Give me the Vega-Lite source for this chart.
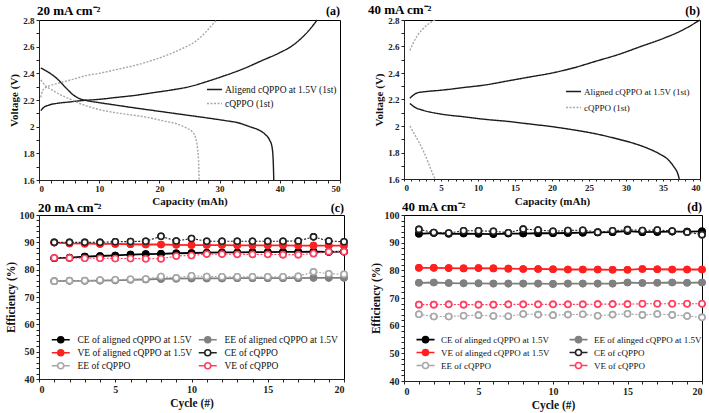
{
  "$schema": "https://vega.github.io/schema/vega-lite/v6.json",
  "padding": {"left": 4, "top": 3, "right": 1, "bottom": 2},
  "bounds": "flush",
  "columns": 2,
  "spacing": {"row": 35, "column": 60},
  "config": {
    "font": "Liberation Serif",
    "view": {"stroke": "black", "strokeWidth": 1},
    "axis": {"labelFont": "Liberation Serif", "labelFontWeight": "bold", "labelColor": "#222", "labelFontSize": 9, "titleFont": "Liberation Serif", "titleFontWeight": "bold", "titleFontSize": 11, "titleColor": "#111", "domainColor": "#222", "tickColor": "#222", "tickSize": 3, "grid": false, "labelPadding": 2, "titlePadding": 3, "labelOverlap": false, "tickCount": 100, "format": "~g"},
    "legend": {"labelFont": "Liberation Serif", "labelColor": "#111"},
    "text": {"font": "Liberation Serif"}
  },
  "datasets": {
    "capA": [
      {"series": "Aligend cQPPO at 1.5V (1st)", "branch": "charge", "k": 1, "cap": 0.3, "v": 2.12},
      {"series": "Aligend cQPPO at 1.5V (1st)", "branch": "charge", "k": 2, "cap": 0.8, "v": 2.145},
      {"series": "Aligend cQPPO at 1.5V (1st)", "branch": "charge", "k": 3, "cap": 1.5, "v": 2.16},
      {"series": "Aligend cQPPO at 1.5V (1st)", "branch": "charge", "k": 4, "cap": 3, "v": 2.175},
      {"series": "Aligend cQPPO at 1.5V (1st)", "branch": "charge", "k": 5, "cap": 5, "v": 2.185},
      {"series": "Aligend cQPPO at 1.5V (1st)", "branch": "charge", "k": 6, "cap": 7, "v": 2.195},
      {"series": "Aligend cQPPO at 1.5V (1st)", "branch": "charge", "k": 7, "cap": 10, "v": 2.205},
      {"series": "Aligend cQPPO at 1.5V (1st)", "branch": "charge", "k": 8, "cap": 13, "v": 2.22},
      {"series": "Aligend cQPPO at 1.5V (1st)", "branch": "charge", "k": 9, "cap": 16, "v": 2.235},
      {"series": "Aligend cQPPO at 1.5V (1st)", "branch": "charge", "k": 10, "cap": 19, "v": 2.255},
      {"series": "Aligend cQPPO at 1.5V (1st)", "branch": "charge", "k": 11, "cap": 22, "v": 2.275},
      {"series": "Aligend cQPPO at 1.5V (1st)", "branch": "charge", "k": 12, "cap": 25, "v": 2.3},
      {"series": "Aligend cQPPO at 1.5V (1st)", "branch": "charge", "k": 13, "cap": 28, "v": 2.34},
      {"series": "Aligend cQPPO at 1.5V (1st)", "branch": "charge", "k": 14, "cap": 31, "v": 2.385},
      {"series": "Aligend cQPPO at 1.5V (1st)", "branch": "charge", "k": 15, "cap": 34, "v": 2.435},
      {"series": "Aligend cQPPO at 1.5V (1st)", "branch": "charge", "k": 16, "cap": 37, "v": 2.495},
      {"series": "Aligend cQPPO at 1.5V (1st)", "branch": "charge", "k": 17, "cap": 40, "v": 2.555},
      {"series": "Aligend cQPPO at 1.5V (1st)", "branch": "charge", "k": 18, "cap": 42, "v": 2.605},
      {"series": "Aligend cQPPO at 1.5V (1st)", "branch": "charge", "k": 19, "cap": 43.5, "v": 2.66},
      {"series": "Aligend cQPPO at 1.5V (1st)", "branch": "charge", "k": 20, "cap": 44.8, "v": 2.72},
      {"series": "Aligend cQPPO at 1.5V (1st)", "branch": "charge", "k": 21, "cap": 46.2, "v": 2.8},
      {"series": "Aligend cQPPO at 1.5V (1st)", "branch": "discharge", "k": 1, "cap": 0.3, "v": 2.44},
      {"series": "Aligend cQPPO at 1.5V (1st)", "branch": "discharge", "k": 2, "cap": 1.5, "v": 2.41},
      {"series": "Aligend cQPPO at 1.5V (1st)", "branch": "discharge", "k": 3, "cap": 3, "v": 2.36},
      {"series": "Aligend cQPPO at 1.5V (1st)", "branch": "discharge", "k": 4, "cap": 4.5, "v": 2.29},
      {"series": "Aligend cQPPO at 1.5V (1st)", "branch": "discharge", "k": 5, "cap": 5.5, "v": 2.245},
      {"series": "Aligend cQPPO at 1.5V (1st)", "branch": "discharge", "k": 6, "cap": 6.5, "v": 2.215},
      {"series": "Aligend cQPPO at 1.5V (1st)", "branch": "discharge", "k": 7, "cap": 8, "v": 2.195},
      {"series": "Aligend cQPPO at 1.5V (1st)", "branch": "discharge", "k": 8, "cap": 10, "v": 2.18},
      {"series": "Aligend cQPPO at 1.5V (1st)", "branch": "discharge", "k": 9, "cap": 13, "v": 2.16},
      {"series": "Aligend cQPPO at 1.5V (1st)", "branch": "discharge", "k": 10, "cap": 16, "v": 2.14},
      {"series": "Aligend cQPPO at 1.5V (1st)", "branch": "discharge", "k": 11, "cap": 20, "v": 2.115},
      {"series": "Aligend cQPPO at 1.5V (1st)", "branch": "discharge", "k": 12, "cap": 24, "v": 2.09},
      {"series": "Aligend cQPPO at 1.5V (1st)", "branch": "discharge", "k": 13, "cap": 28, "v": 2.065},
      {"series": "Aligend cQPPO at 1.5V (1st)", "branch": "discharge", "k": 14, "cap": 31, "v": 2.045},
      {"series": "Aligend cQPPO at 1.5V (1st)", "branch": "discharge", "k": 15, "cap": 33, "v": 2.03},
      {"series": "Aligend cQPPO at 1.5V (1st)", "branch": "discharge", "k": 16, "cap": 35, "v": 2.0},
      {"series": "Aligend cQPPO at 1.5V (1st)", "branch": "discharge", "k": 17, "cap": 36.5, "v": 1.975},
      {"series": "Aligend cQPPO at 1.5V (1st)", "branch": "discharge", "k": 18, "cap": 37.5, "v": 1.945},
      {"series": "Aligend cQPPO at 1.5V (1st)", "branch": "discharge", "k": 19, "cap": 38.3, "v": 1.9},
      {"series": "Aligend cQPPO at 1.5V (1st)", "branch": "discharge", "k": 20, "cap": 38.7, "v": 1.85},
      {"series": "Aligend cQPPO at 1.5V (1st)", "branch": "discharge", "k": 21, "cap": 38.9, "v": 1.75},
      {"series": "Aligend cQPPO at 1.5V (1st)", "branch": "discharge", "k": 22, "cap": 39, "v": 1.6},
      {"series": "cQPPO (1st)", "branch": "charge", "k": 1, "cap": 0.3, "v": 2.22},
      {"series": "cQPPO (1st)", "branch": "charge", "k": 2, "cap": 0.6, "v": 2.27},
      {"series": "cQPPO (1st)", "branch": "charge", "k": 3, "cap": 1, "v": 2.29},
      {"series": "cQPPO (1st)", "branch": "charge", "k": 4, "cap": 2, "v": 2.31},
      {"series": "cQPPO (1st)", "branch": "charge", "k": 5, "cap": 4, "v": 2.335},
      {"series": "cQPPO (1st)", "branch": "charge", "k": 6, "cap": 6, "v": 2.36},
      {"series": "cQPPO (1st)", "branch": "charge", "k": 7, "cap": 8, "v": 2.385},
      {"series": "cQPPO (1st)", "branch": "charge", "k": 8, "cap": 10, "v": 2.4},
      {"series": "cQPPO (1st)", "branch": "charge", "k": 9, "cap": 13, "v": 2.43},
      {"series": "cQPPO (1st)", "branch": "charge", "k": 10, "cap": 16, "v": 2.46},
      {"series": "cQPPO (1st)", "branch": "charge", "k": 11, "cap": 19, "v": 2.5},
      {"series": "cQPPO (1st)", "branch": "charge", "k": 12, "cap": 22, "v": 2.55},
      {"series": "cQPPO (1st)", "branch": "charge", "k": 13, "cap": 24, "v": 2.59},
      {"series": "cQPPO (1st)", "branch": "charge", "k": 14, "cap": 26, "v": 2.64},
      {"series": "cQPPO (1st)", "branch": "charge", "k": 15, "cap": 27.5, "v": 2.7},
      {"series": "cQPPO (1st)", "branch": "charge", "k": 16, "cap": 28.5, "v": 2.75},
      {"series": "cQPPO (1st)", "branch": "charge", "k": 17, "cap": 29.5, "v": 2.8},
      {"series": "cQPPO (1st)", "branch": "discharge", "k": 1, "cap": 0.3, "v": 2.35},
      {"series": "cQPPO (1st)", "branch": "discharge", "k": 2, "cap": 1, "v": 2.31},
      {"series": "cQPPO (1st)", "branch": "discharge", "k": 3, "cap": 2, "v": 2.28},
      {"series": "cQPPO (1st)", "branch": "discharge", "k": 4, "cap": 3.5, "v": 2.24},
      {"series": "cQPPO (1st)", "branch": "discharge", "k": 5, "cap": 5, "v": 2.21},
      {"series": "cQPPO (1st)", "branch": "discharge", "k": 6, "cap": 7, "v": 2.17},
      {"series": "cQPPO (1st)", "branch": "discharge", "k": 7, "cap": 9, "v": 2.14},
      {"series": "cQPPO (1st)", "branch": "discharge", "k": 8, "cap": 12, "v": 2.11},
      {"series": "cQPPO (1st)", "branch": "discharge", "k": 9, "cap": 15, "v": 2.09},
      {"series": "cQPPO (1st)", "branch": "discharge", "k": 10, "cap": 18, "v": 2.07},
      {"series": "cQPPO (1st)", "branch": "discharge", "k": 11, "cap": 21, "v": 2.04},
      {"series": "cQPPO (1st)", "branch": "discharge", "k": 12, "cap": 23, "v": 2.02},
      {"series": "cQPPO (1st)", "branch": "discharge", "k": 13, "cap": 24.5, "v": 1.99},
      {"series": "cQPPO (1st)", "branch": "discharge", "k": 14, "cap": 25.5, "v": 1.96},
      {"series": "cQPPO (1st)", "branch": "discharge", "k": 15, "cap": 26, "v": 1.92},
      {"series": "cQPPO (1st)", "branch": "discharge", "k": 16, "cap": 26.3, "v": 1.85},
      {"series": "cQPPO (1st)", "branch": "discharge", "k": 17, "cap": 26.5, "v": 1.75},
      {"series": "cQPPO (1st)", "branch": "discharge", "k": 18, "cap": 26.6, "v": 1.6}
    ],
    "capB": [
      {"series": "Aligned cQPPO at 1.5V (1st)", "branch": "charge", "k": 1, "cap": 0.8, "v": 2.21},
      {"series": "Aligned cQPPO at 1.5V (1st)", "branch": "charge", "k": 2, "cap": 1.2, "v": 2.23},
      {"series": "Aligned cQPPO at 1.5V (1st)", "branch": "charge", "k": 3, "cap": 1.8, "v": 2.25},
      {"series": "Aligned cQPPO at 1.5V (1st)", "branch": "charge", "k": 4, "cap": 3, "v": 2.26},
      {"series": "Aligned cQPPO at 1.5V (1st)", "branch": "charge", "k": 5, "cap": 5, "v": 2.27},
      {"series": "Aligned cQPPO at 1.5V (1st)", "branch": "charge", "k": 6, "cap": 8, "v": 2.29},
      {"series": "Aligned cQPPO at 1.5V (1st)", "branch": "charge", "k": 7, "cap": 11, "v": 2.31},
      {"series": "Aligned cQPPO at 1.5V (1st)", "branch": "charge", "k": 8, "cap": 14, "v": 2.34},
      {"series": "Aligned cQPPO at 1.5V (1st)", "branch": "charge", "k": 9, "cap": 17, "v": 2.37},
      {"series": "Aligned cQPPO at 1.5V (1st)", "branch": "charge", "k": 10, "cap": 20, "v": 2.4},
      {"series": "Aligned cQPPO at 1.5V (1st)", "branch": "charge", "k": 11, "cap": 23, "v": 2.44},
      {"series": "Aligned cQPPO at 1.5V (1st)", "branch": "charge", "k": 12, "cap": 26, "v": 2.49},
      {"series": "Aligned cQPPO at 1.5V (1st)", "branch": "charge", "k": 13, "cap": 29, "v": 2.54},
      {"series": "Aligned cQPPO at 1.5V (1st)", "branch": "charge", "k": 14, "cap": 32, "v": 2.6},
      {"series": "Aligned cQPPO at 1.5V (1st)", "branch": "charge", "k": 15, "cap": 35, "v": 2.66},
      {"series": "Aligned cQPPO at 1.5V (1st)", "branch": "charge", "k": 16, "cap": 37.5, "v": 2.72},
      {"series": "Aligned cQPPO at 1.5V (1st)", "branch": "charge", "k": 17, "cap": 40, "v": 2.8},
      {"series": "Aligned cQPPO at 1.5V (1st)", "branch": "discharge", "k": 1, "cap": 0.8, "v": 2.17},
      {"series": "Aligned cQPPO at 1.5V (1st)", "branch": "discharge", "k": 2, "cap": 1.5, "v": 2.14},
      {"series": "Aligned cQPPO at 1.5V (1st)", "branch": "discharge", "k": 3, "cap": 2.5, "v": 2.12},
      {"series": "Aligned cQPPO at 1.5V (1st)", "branch": "discharge", "k": 4, "cap": 5, "v": 2.09},
      {"series": "Aligned cQPPO at 1.5V (1st)", "branch": "discharge", "k": 5, "cap": 8, "v": 2.07},
      {"series": "Aligned cQPPO at 1.5V (1st)", "branch": "discharge", "k": 6, "cap": 11, "v": 2.05},
      {"series": "Aligned cQPPO at 1.5V (1st)", "branch": "discharge", "k": 7, "cap": 14, "v": 2.035},
      {"series": "Aligned cQPPO at 1.5V (1st)", "branch": "discharge", "k": 8, "cap": 17, "v": 2.015},
      {"series": "Aligned cQPPO at 1.5V (1st)", "branch": "discharge", "k": 9, "cap": 20, "v": 1.995},
      {"series": "Aligned cQPPO at 1.5V (1st)", "branch": "discharge", "k": 10, "cap": 23, "v": 1.97},
      {"series": "Aligned cQPPO at 1.5V (1st)", "branch": "discharge", "k": 11, "cap": 26, "v": 1.94},
      {"series": "Aligned cQPPO at 1.5V (1st)", "branch": "discharge", "k": 12, "cap": 29, "v": 1.9},
      {"series": "Aligned cQPPO at 1.5V (1st)", "branch": "discharge", "k": 13, "cap": 31, "v": 1.87},
      {"series": "Aligned cQPPO at 1.5V (1st)", "branch": "discharge", "k": 14, "cap": 33, "v": 1.83},
      {"series": "Aligned cQPPO at 1.5V (1st)", "branch": "discharge", "k": 15, "cap": 34.5, "v": 1.79},
      {"series": "Aligned cQPPO at 1.5V (1st)", "branch": "discharge", "k": 16, "cap": 35.8, "v": 1.74},
      {"series": "Aligned cQPPO at 1.5V (1st)", "branch": "discharge", "k": 17, "cap": 36.5, "v": 1.69},
      {"series": "Aligned cQPPO at 1.5V (1st)", "branch": "discharge", "k": 18, "cap": 37, "v": 1.64},
      {"series": "Aligned cQPPO at 1.5V (1st)", "branch": "discharge", "k": 19, "cap": 37.2, "v": 1.6},
      {"series": "cQPPO (1st)", "branch": "charge", "k": 1, "cap": 0.8, "v": 2.57},
      {"series": "cQPPO (1st)", "branch": "charge", "k": 2, "cap": 1.2, "v": 2.62},
      {"series": "cQPPO (1st)", "branch": "charge", "k": 3, "cap": 1.8, "v": 2.68},
      {"series": "cQPPO (1st)", "branch": "charge", "k": 4, "cap": 2.5, "v": 2.73},
      {"series": "cQPPO (1st)", "branch": "charge", "k": 5, "cap": 3.3, "v": 2.77},
      {"series": "cQPPO (1st)", "branch": "charge", "k": 6, "cap": 4.2, "v": 2.8},
      {"series": "cQPPO (1st)", "branch": "discharge", "k": 1, "cap": 0.8, "v": 2.0},
      {"series": "cQPPO (1st)", "branch": "discharge", "k": 2, "cap": 1.3, "v": 1.95},
      {"series": "cQPPO (1st)", "branch": "discharge", "k": 3, "cap": 2.0, "v": 1.88},
      {"series": "cQPPO (1st)", "branch": "discharge", "k": 4, "cap": 2.7, "v": 1.8},
      {"series": "cQPPO (1st)", "branch": "discharge", "k": 5, "cap": 3.3, "v": 1.72},
      {"series": "cQPPO (1st)", "branch": "discharge", "k": 6, "cap": 3.8, "v": 1.65},
      {"series": "cQPPO (1st)", "branch": "discharge", "k": 7, "cap": 4.2, "v": 1.6}
    ],
    "effC": [
      {"s": "CE of aligned cQPPO at 1.5V", "c": 1, "e": 84.2}, {"s": "CE of aligned cQPPO at 1.5V", "c": 2, "e": 84.4}, {"s": "CE of aligned cQPPO at 1.5V", "c": 3, "e": 84.8}, {"s": "CE of aligned cQPPO at 1.5V", "c": 4, "e": 85.0}, {"s": "CE of aligned cQPPO at 1.5V", "c": 5, "e": 85.2}, {"s": "CE of aligned cQPPO at 1.5V", "c": 6, "e": 85.5}, {"s": "CE of aligned cQPPO at 1.5V", "c": 7, "e": 85.7}, {"s": "CE of aligned cQPPO at 1.5V", "c": 8, "e": 85.8}, {"s": "CE of aligned cQPPO at 1.5V", "c": 9, "e": 86.0}, {"s": "CE of aligned cQPPO at 1.5V", "c": 10, "e": 86.1},
      {"s": "CE of aligned cQPPO at 1.5V", "c": 11, "e": 86.2}, {"s": "CE of aligned cQPPO at 1.5V", "c": 12, "e": 86.3}, {"s": "CE of aligned cQPPO at 1.5V", "c": 13, "e": 86.3}, {"s": "CE of aligned cQPPO at 1.5V", "c": 14, "e": 86.4}, {"s": "CE of aligned cQPPO at 1.5V", "c": 15, "e": 86.4}, {"s": "CE of aligned cQPPO at 1.5V", "c": 16, "e": 86.5}, {"s": "CE of aligned cQPPO at 1.5V", "c": 17, "e": 86.5}, {"s": "CE of aligned cQPPO at 1.5V", "c": 18, "e": 86.6}, {"s": "CE of aligned cQPPO at 1.5V", "c": 19, "e": 86.5}, {"s": "CE of aligned cQPPO at 1.5V", "c": 20, "e": 86.6},
      {"s": "EE of aligned cQPPO at 1.5V", "c": 1, "e": 75.8}, {"s": "EE of aligned cQPPO at 1.5V", "c": 2, "e": 75.9}, {"s": "EE of aligned cQPPO at 1.5V", "c": 3, "e": 75.9}, {"s": "EE of aligned cQPPO at 1.5V", "c": 4, "e": 76.0}, {"s": "EE of aligned cQPPO at 1.5V", "c": 5, "e": 76.1}, {"s": "EE of aligned cQPPO at 1.5V", "c": 6, "e": 76.3}, {"s": "EE of aligned cQPPO at 1.5V", "c": 7, "e": 76.4}, {"s": "EE of aligned cQPPO at 1.5V", "c": 8, "e": 76.6}, {"s": "EE of aligned cQPPO at 1.5V", "c": 9, "e": 76.7}, {"s": "EE of aligned cQPPO at 1.5V", "c": 10, "e": 76.8},
      {"s": "EE of aligned cQPPO at 1.5V", "c": 11, "e": 76.8}, {"s": "EE of aligned cQPPO at 1.5V", "c": 12, "e": 76.8}, {"s": "EE of aligned cQPPO at 1.5V", "c": 13, "e": 76.9}, {"s": "EE of aligned cQPPO at 1.5V", "c": 14, "e": 76.9}, {"s": "EE of aligned cQPPO at 1.5V", "c": 15, "e": 76.9}, {"s": "EE of aligned cQPPO at 1.5V", "c": 16, "e": 76.9}, {"s": "EE of aligned cQPPO at 1.5V", "c": 17, "e": 76.9}, {"s": "EE of aligned cQPPO at 1.5V", "c": 18, "e": 77.0}, {"s": "EE of aligned cQPPO at 1.5V", "c": 19, "e": 77.0}, {"s": "EE of aligned cQPPO at 1.5V", "c": 20, "e": 77.0},
      {"s": "VE of aligned cQPPO at 1.5V", "c": 1, "e": 89.9}, {"s": "VE of aligned cQPPO at 1.5V", "c": 2, "e": 89.6}, {"s": "VE of aligned cQPPO at 1.5V", "c": 3, "e": 89.5}, {"s": "VE of aligned cQPPO at 1.5V", "c": 4, "e": 89.4}, {"s": "VE of aligned cQPPO at 1.5V", "c": 5, "e": 89.4}, {"s": "VE of aligned cQPPO at 1.5V", "c": 6, "e": 89.3}, {"s": "VE of aligned cQPPO at 1.5V", "c": 7, "e": 89.2}, {"s": "VE of aligned cQPPO at 1.5V", "c": 8, "e": 89.2}, {"s": "VE of aligned cQPPO at 1.5V", "c": 9, "e": 89.1}, {"s": "VE of aligned cQPPO at 1.5V", "c": 10, "e": 89.0},
      {"s": "VE of aligned cQPPO at 1.5V", "c": 11, "e": 89.0}, {"s": "VE of aligned cQPPO at 1.5V", "c": 12, "e": 89.0}, {"s": "VE of aligned cQPPO at 1.5V", "c": 13, "e": 88.9}, {"s": "VE of aligned cQPPO at 1.5V", "c": 14, "e": 88.9}, {"s": "VE of aligned cQPPO at 1.5V", "c": 15, "e": 88.9}, {"s": "VE of aligned cQPPO at 1.5V", "c": 16, "e": 88.9}, {"s": "VE of aligned cQPPO at 1.5V", "c": 17, "e": 88.8}, {"s": "VE of aligned cQPPO at 1.5V", "c": 18, "e": 88.8}, {"s": "VE of aligned cQPPO at 1.5V", "c": 19, "e": 88.8}, {"s": "VE of aligned cQPPO at 1.5V", "c": 20, "e": 88.8},
      {"s": "CE of cQPPO", "c": 1, "e": 90.0}, {"s": "CE of cQPPO", "c": 2, "e": 90.0}, {"s": "CE of cQPPO", "c": 3, "e": 90.0}, {"s": "CE of cQPPO", "c": 4, "e": 90.0}, {"s": "CE of cQPPO", "c": 5, "e": 90.2}, {"s": "CE of cQPPO", "c": 6, "e": 90.3}, {"s": "CE of cQPPO", "c": 7, "e": 90.4}, {"s": "CE of cQPPO", "c": 8, "e": 92.2}, {"s": "CE of cQPPO", "c": 9, "e": 90.5}, {"s": "CE of cQPPO", "c": 10, "e": 91.4},
      {"s": "CE of cQPPO", "c": 11, "e": 90.4}, {"s": "CE of cQPPO", "c": 12, "e": 90.4}, {"s": "CE of cQPPO", "c": 13, "e": 90.4}, {"s": "CE of cQPPO", "c": 14, "e": 90.4}, {"s": "CE of cQPPO", "c": 15, "e": 90.4}, {"s": "CE of cQPPO", "c": 16, "e": 90.4}, {"s": "CE of cQPPO", "c": 17, "e": 90.5}, {"s": "CE of cQPPO", "c": 18, "e": 92.0}, {"s": "CE of cQPPO", "c": 19, "e": 90.5}, {"s": "CE of cQPPO", "c": 20, "e": 90.2},
      {"s": "EE of cQPPO", "c": 1, "e": 75.8}, {"s": "EE of cQPPO", "c": 2, "e": 76.0}, {"s": "EE of cQPPO", "c": 3, "e": 76.0}, {"s": "EE of cQPPO", "c": 4, "e": 76.2}, {"s": "EE of cQPPO", "c": 5, "e": 76.3}, {"s": "EE of cQPPO", "c": 6, "e": 76.5}, {"s": "EE of cQPPO", "c": 7, "e": 76.6}, {"s": "EE of cQPPO", "c": 8, "e": 77.5}, {"s": "EE of cQPPO", "c": 9, "e": 77.0}, {"s": "EE of cQPPO", "c": 10, "e": 77.8},
      {"s": "EE of cQPPO", "c": 11, "e": 77.5}, {"s": "EE of cQPPO", "c": 12, "e": 77.4}, {"s": "EE of cQPPO", "c": 13, "e": 77.4}, {"s": "EE of cQPPO", "c": 14, "e": 77.4}, {"s": "EE of cQPPO", "c": 15, "e": 77.4}, {"s": "EE of cQPPO", "c": 16, "e": 77.4}, {"s": "EE of cQPPO", "c": 17, "e": 77.6}, {"s": "EE of cQPPO", "c": 18, "e": 79.2}, {"s": "EE of cQPPO", "c": 19, "e": 78.5}, {"s": "EE of cQPPO", "c": 20, "e": 78.3},
      {"s": "VE of cQPPO", "c": 1, "e": 84.3}, {"s": "VE of cQPPO", "c": 2, "e": 84.3}, {"s": "VE of cQPPO", "c": 3, "e": 84.2}, {"s": "VE of cQPPO", "c": 4, "e": 84.2}, {"s": "VE of cQPPO", "c": 5, "e": 84.1}, {"s": "VE of cQPPO", "c": 6, "e": 84.1}, {"s": "VE of cQPPO", "c": 7, "e": 84.0}, {"s": "VE of cQPPO", "c": 8, "e": 84.0}, {"s": "VE of cQPPO", "c": 9, "e": 85.0}, {"s": "VE of cQPPO", "c": 10, "e": 85.2},
      {"s": "VE of cQPPO", "c": 11, "e": 85.7}, {"s": "VE of cQPPO", "c": 12, "e": 85.7}, {"s": "VE of cQPPO", "c": 13, "e": 85.6}, {"s": "VE of cQPPO", "c": 14, "e": 85.6}, {"s": "VE of cQPPO", "c": 15, "e": 85.6}, {"s": "VE of cQPPO", "c": 16, "e": 85.5}, {"s": "VE of cQPPO", "c": 17, "e": 85.5}, {"s": "VE of cQPPO", "c": 18, "e": 85.9}, {"s": "VE of cQPPO", "c": 19, "e": 86.6}, {"s": "VE of cQPPO", "c": 20, "e": 86.6}
    ],
    "effD": [
      {"s": "CE of alinged cQPPO at 1.5V", "c": 1, "e": 93.2}, {"s": "CE of alinged cQPPO at 1.5V", "c": 2, "e": 93.5}, {"s": "CE of alinged cQPPO at 1.5V", "c": 3, "e": 93.2}, {"s": "CE of alinged cQPPO at 1.5V", "c": 4, "e": 93.3}, {"s": "CE of alinged cQPPO at 1.5V", "c": 5, "e": 93.2}, {"s": "CE of alinged cQPPO at 1.5V", "c": 6, "e": 93.1}, {"s": "CE of alinged cQPPO at 1.5V", "c": 7, "e": 93.3}, {"s": "CE of alinged cQPPO at 1.5V", "c": 8, "e": 93.3}, {"s": "CE of alinged cQPPO at 1.5V", "c": 9, "e": 93.4}, {"s": "CE of alinged cQPPO at 1.5V", "c": 10, "e": 93.4},
      {"s": "CE of alinged cQPPO at 1.5V", "c": 11, "e": 93.5}, {"s": "CE of alinged cQPPO at 1.5V", "c": 12, "e": 93.6}, {"s": "CE of alinged cQPPO at 1.5V", "c": 13, "e": 93.7}, {"s": "CE of alinged cQPPO at 1.5V", "c": 14, "e": 93.8}, {"s": "CE of alinged cQPPO at 1.5V", "c": 15, "e": 94.2}, {"s": "CE of alinged cQPPO at 1.5V", "c": 16, "e": 93.8}, {"s": "CE of alinged cQPPO at 1.5V", "c": 17, "e": 93.9}, {"s": "CE of alinged cQPPO at 1.5V", "c": 18, "e": 94.0}, {"s": "CE of alinged cQPPO at 1.5V", "c": 19, "e": 94.0}, {"s": "CE of alinged cQPPO at 1.5V", "c": 20, "e": 94.1},
      {"s": "EE of alinged cQPPO at 1.5V", "c": 1, "e": 75.5}, {"s": "EE of alinged cQPPO at 1.5V", "c": 2, "e": 75.6}, {"s": "EE of alinged cQPPO at 1.5V", "c": 3, "e": 75.4}, {"s": "EE of alinged cQPPO at 1.5V", "c": 4, "e": 75.3}, {"s": "EE of alinged cQPPO at 1.5V", "c": 5, "e": 75.3}, {"s": "EE of alinged cQPPO at 1.5V", "c": 6, "e": 75.2}, {"s": "EE of alinged cQPPO at 1.5V", "c": 7, "e": 75.2}, {"s": "EE of alinged cQPPO at 1.5V", "c": 8, "e": 75.2}, {"s": "EE of alinged cQPPO at 1.5V", "c": 9, "e": 75.2}, {"s": "EE of alinged cQPPO at 1.5V", "c": 10, "e": 75.1},
      {"s": "EE of alinged cQPPO at 1.5V", "c": 11, "e": 75.2}, {"s": "EE of alinged cQPPO at 1.5V", "c": 12, "e": 75.2}, {"s": "EE of alinged cQPPO at 1.5V", "c": 13, "e": 75.2}, {"s": "EE of alinged cQPPO at 1.5V", "c": 14, "e": 75.2}, {"s": "EE of alinged cQPPO at 1.5V", "c": 15, "e": 75.6}, {"s": "EE of alinged cQPPO at 1.5V", "c": 16, "e": 75.4}, {"s": "EE of alinged cQPPO at 1.5V", "c": 17, "e": 75.5}, {"s": "EE of alinged cQPPO at 1.5V", "c": 18, "e": 75.6}, {"s": "EE of alinged cQPPO at 1.5V", "c": 19, "e": 75.5}, {"s": "EE of alinged cQPPO at 1.5V", "c": 20, "e": 75.6},
      {"s": "VE of alinged cQPPO at 1.5V", "c": 1, "e": 80.9}, {"s": "VE of alinged cQPPO at 1.5V", "c": 2, "e": 80.9}, {"s": "VE of alinged cQPPO at 1.5V", "c": 3, "e": 80.8}, {"s": "VE of alinged cQPPO at 1.5V", "c": 4, "e": 80.7}, {"s": "VE of alinged cQPPO at 1.5V", "c": 5, "e": 80.8}, {"s": "VE of alinged cQPPO at 1.5V", "c": 6, "e": 80.7}, {"s": "VE of alinged cQPPO at 1.5V", "c": 7, "e": 80.6}, {"s": "VE of alinged cQPPO at 1.5V", "c": 8, "e": 80.5}, {"s": "VE of alinged cQPPO at 1.5V", "c": 9, "e": 80.5}, {"s": "VE of alinged cQPPO at 1.5V", "c": 10, "e": 80.4},
      {"s": "VE of alinged cQPPO at 1.5V", "c": 11, "e": 80.3}, {"s": "VE of alinged cQPPO at 1.5V", "c": 12, "e": 80.3}, {"s": "VE of alinged cQPPO at 1.5V", "c": 13, "e": 80.3}, {"s": "VE of alinged cQPPO at 1.5V", "c": 14, "e": 80.2}, {"s": "VE of alinged cQPPO at 1.5V", "c": 15, "e": 80.2}, {"s": "VE of alinged cQPPO at 1.5V", "c": 16, "e": 80.5}, {"s": "VE of alinged cQPPO at 1.5V", "c": 17, "e": 80.4}, {"s": "VE of alinged cQPPO at 1.5V", "c": 18, "e": 80.3}, {"s": "VE of alinged cQPPO at 1.5V", "c": 19, "e": 80.3}, {"s": "VE of alinged cQPPO at 1.5V", "c": 20, "e": 80.3},
      {"s": "CE of cQPPO", "c": 1, "e": 94.8}, {"s": "CE of cQPPO", "c": 2, "e": 93.7}, {"s": "CE of cQPPO", "c": 3, "e": 93.5}, {"s": "CE of cQPPO", "c": 4, "e": 94.3}, {"s": "CE of cQPPO", "c": 5, "e": 94.3}, {"s": "CE of cQPPO", "c": 6, "e": 94.1}, {"s": "CE of cQPPO", "c": 7, "e": 93.6}, {"s": "CE of cQPPO", "c": 8, "e": 94.9}, {"s": "CE of cQPPO", "c": 9, "e": 94.6}, {"s": "CE of cQPPO", "c": 10, "e": 94.1},
      {"s": "CE of cQPPO", "c": 11, "e": 94.4}, {"s": "CE of cQPPO", "c": 12, "e": 94.5}, {"s": "CE of cQPPO", "c": 13, "e": 93.8}, {"s": "CE of cQPPO", "c": 14, "e": 94.3}, {"s": "CE of cQPPO", "c": 15, "e": 94.7}, {"s": "CE of cQPPO", "c": 16, "e": 94.4}, {"s": "CE of cQPPO", "c": 17, "e": 94.6}, {"s": "CE of cQPPO", "c": 18, "e": 94.2}, {"s": "CE of cQPPO", "c": 19, "e": 93.8}, {"s": "CE of cQPPO", "c": 20, "e": 92.9},
      {"s": "EE of cQPPO", "c": 1, "e": 64.1}, {"s": "EE of cQPPO", "c": 2, "e": 63.3}, {"s": "EE of cQPPO", "c": 3, "e": 63.3}, {"s": "EE of cQPPO", "c": 4, "e": 63.6}, {"s": "EE of cQPPO", "c": 5, "e": 63.8}, {"s": "EE of cQPPO", "c": 6, "e": 63.5}, {"s": "EE of cQPPO", "c": 7, "e": 63.4}, {"s": "EE of cQPPO", "c": 8, "e": 64.2}, {"s": "EE of cQPPO", "c": 9, "e": 64.0}, {"s": "EE of cQPPO", "c": 10, "e": 63.8},
      {"s": "EE of cQPPO", "c": 11, "e": 64.0}, {"s": "EE of cQPPO", "c": 12, "e": 64.1}, {"s": "EE of cQPPO", "c": 13, "e": 63.6}, {"s": "EE of cQPPO", "c": 14, "e": 64.0}, {"s": "EE of cQPPO", "c": 15, "e": 64.3}, {"s": "EE of cQPPO", "c": 16, "e": 63.9}, {"s": "EE of cQPPO", "c": 17, "e": 64.2}, {"s": "EE of cQPPO", "c": 18, "e": 63.9}, {"s": "EE of cQPPO", "c": 19, "e": 63.5}, {"s": "EE of cQPPO", "c": 20, "e": 63.0},
      {"s": "VE of cQPPO", "c": 1, "e": 67.6}, {"s": "VE of cQPPO", "c": 2, "e": 67.6}, {"s": "VE of cQPPO", "c": 3, "e": 67.7}, {"s": "VE of cQPPO", "c": 4, "e": 67.6}, {"s": "VE of cQPPO", "c": 5, "e": 67.6}, {"s": "VE of cQPPO", "c": 6, "e": 67.6}, {"s": "VE of cQPPO", "c": 7, "e": 67.7}, {"s": "VE of cQPPO", "c": 8, "e": 67.7}, {"s": "VE of cQPPO", "c": 9, "e": 67.7}, {"s": "VE of cQPPO", "c": 10, "e": 67.7},
      {"s": "VE of cQPPO", "c": 11, "e": 67.7}, {"s": "VE of cQPPO", "c": 12, "e": 67.7}, {"s": "VE of cQPPO", "c": 13, "e": 67.8}, {"s": "VE of cQPPO", "c": 14, "e": 67.8}, {"s": "VE of cQPPO", "c": 15, "e": 67.8}, {"s": "VE of cQPPO", "c": 16, "e": 67.9}, {"s": "VE of cQPPO", "c": 17, "e": 67.9}, {"s": "VE of cQPPO", "c": 18, "e": 67.9}, {"s": "VE of cQPPO", "c": 19, "e": 67.9}, {"s": "VE of cQPPO", "c": 20, "e": 67.9}
    ]
  },
  "resolve": {"scale": {"stroke": "independent", "fill": "independent", "strokeDash": "independent"}},
  "concat": [
    {
      "width": 301, "height": 160,
      "layer": [
        {
          "data": {"name": "capA"},
          "mark": {"type": "line", "strokeWidth": 1.4, "interpolate": "monotone"},
          "encoding": {
            "x": {"field": "cap", "type": "quantitative", "title": "Capacity (mAh)", "scale": {"domain": [0, 50], "nice": false},
                  "axis": {"values": [0,2,4,6,8,10,12,14,16,18,20,22,24,26,28,30,32,34,36,38,40,42,44,46,48,50], "labelExpr": "datum.value % 10 == 0 ? datum.label : ''", "format": "~g", "labelOverlap": false, "tickCount": 100, "labelPadding": 1, "titlePadding": 2}},
            "y": {"field": "v", "type": "quantitative", "title": "Voltage (V)", "scale": {"domain": [1.6, 2.8], "nice": false, "zero": false},
                  "axis": {"values": [1.6,1.7,1.8,1.9,2.0,2.1,2.2,2.3,2.4,2.5,2.6,2.7,2.8], "labelExpr": "round(datum.value*10) % 2 == 0 ? datum.label : ''", "format": "~g", "labelOverlap": false, "tickCount": 100}},
            "detail": {"field": "branch"},
            "order": {"field": "k", "type": "quantitative"},
            "stroke": {"field": "series", "type": "nominal", "scale": {"domain": ["Aligend cQPPO at 1.5V (1st)", "cQPPO (1st)"], "range": ["#1c1c1c", "#a8a8a8"]},
                       "legend": {"title": null, "orient": "none", "legendX": 167, "legendY": 61, "symbolType": "stroke", "symbolSize": 225, "symbolStrokeWidth": 1.4, "labelFontSize": 9.5, "rowPadding": 1, "labelOffset": 2}},
            "strokeDash": {"field": "series", "type": "nominal", "scale": {"domain": ["Aligend cQPPO at 1.5V (1st)", "cQPPO (1st)"], "range": [[1, 0], [2, 1.5]]}, "legend": null}
          }
        },
        {
          "data": {"values": [{"lab": "20 mA cm⁻²", "x": 0, "y": 2.8}]},
          "mark": {"type": "text", "align": "left", "baseline": "alphabetic", "dx": -2, "dy": -5, "fontSize": 13, "fontWeight": "bold", "color": "#000"},
          "encoding": {"x": {"field": "x", "type": "quantitative"}, "y": {"field": "y", "type": "quantitative"}, "text": {"field": "lab"}}
        },
        {
          "data": {"values": [{"lab": "(a)", "x": 50, "y": 2.8}]},
          "mark": {"type": "text", "align": "right", "baseline": "alphabetic", "dy": -5, "fontSize": 12, "fontWeight": "bold", "color": "#000"},
          "encoding": {"x": {"field": "x", "type": "quantitative"}, "y": {"field": "y", "type": "quantitative"}, "text": {"field": "lab"}}
        }
      ]
    },
    {
      "width": 296, "height": 159,
      "layer": [
        {
          "data": {"name": "capB"},
          "mark": {"type": "line", "strokeWidth": 1.4, "interpolate": "monotone"},
          "encoding": {
            "x": {"field": "cap", "type": "quantitative", "title": "Capacity (mAh)", "scale": {"domain": [0, 40], "nice": false},
                  "axis": {"values": [0,1,2,3,4,5,6,7,8,9,10,11,12,13,14,15,16,17,18,19,20,21,22,23,24,25,26,27,28,29,30,31,32,33,34,35,36,37,38,39,40], "labelExpr": "datum.value % 5 == 0 ? datum.label : ''", "format": "~g", "tickSize": 2, "labelOverlap": false, "tickCount": 100}},
            "y": {"field": "v", "type": "quantitative", "title": "Voltage (V)", "scale": {"domain": [1.6, 2.8], "nice": false, "zero": false},
                  "axis": {"values": [1.6,1.7,1.8,1.9,2.0,2.1,2.2,2.3,2.4,2.5,2.6,2.7,2.8], "labelExpr": "round(datum.value*10) % 2 == 0 ? datum.label : ''", "format": "~g", "labelOverlap": false, "tickCount": 100}},
            "detail": {"field": "branch"},
            "order": {"field": "k", "type": "quantitative"},
            "stroke": {"field": "series", "type": "nominal", "scale": {"domain": ["Aligned cQPPO at 1.5V (1st)", "cQPPO (1st)"], "range": ["#1c1c1c", "#a8a8a8"]},
                       "legend": {"title": null, "orient": "none", "legendX": 161, "legendY": 63, "symbolType": "stroke", "symbolSize": 225, "symbolStrokeWidth": 1.4, "labelFontSize": 9, "rowPadding": 2, "labelOffset": 2}},
            "strokeDash": {"field": "series", "type": "nominal", "scale": {"domain": ["Aligned cQPPO at 1.5V (1st)", "cQPPO (1st)"], "range": [[1, 0], [2, 1.5]]}, "legend": null}
          }
        },
        {
          "data": {"values": [{"lab": "40 mA cm⁻²", "x": 0, "y": 2.8}]},
          "mark": {"type": "text", "align": "left", "baseline": "alphabetic", "dx": -36, "dy": -6, "fontSize": 13, "fontWeight": "bold", "color": "#000"},
          "encoding": {"x": {"field": "x", "type": "quantitative"}, "y": {"field": "y", "type": "quantitative"}, "text": {"field": "lab"}}
        },
        {
          "data": {"values": [{"lab": "(b)", "x": 40, "y": 2.8}]},
          "mark": {"type": "text", "align": "right", "baseline": "alphabetic", "dy": -5, "fontSize": 12, "fontWeight": "bold", "color": "#000"},
          "encoding": {"x": {"field": "x", "type": "quantitative"}, "y": {"field": "y", "type": "quantitative"}, "text": {"field": "lab"}}
        }
      ]
    },
    {
      "width": 305, "height": 164,
      "layer": [
        {
          "data": {"name": "effC"},
          "mark": {"type": "point", "shape": "circle", "size": 36, "opacity": 1, "strokeWidth": 1.6},
          "encoding": {
            "x": {"field": "c", "type": "quantitative", "title": "Cycle (#)", "scale": {"domain": [0, 20], "nice": false},
                  "axis": {"values": [0,1,2,3,4,5,6,7,8,9,10,11,12,13,14,15,16,17,18,19,20], "labelExpr": "datum.value % 5 == 0 ? datum.label : ''", "format": "d", "labelFontSize": 10, "titleFontSize": 11.5, "labelOverlap": false, "tickCount": 100}},
            "y": {"field": "e", "type": "quantitative", "title": "Efficiency (%)", "scale": {"domain": [40, 100], "nice": false, "zero": false},
                  "axis": {"values": [40,42,44,46,48,50,52,54,56,58,60,62,64,66,68,70,72,74,76,78,80,82,84,86,88,90,92,94,96,98,100], "labelExpr": "datum.value % 10 == 0 ? datum.label : ''", "format": "d", "labelFontSize": 10, "titleFontSize": 11.5, "labelOverlap": false, "tickCount": 100}},
            "stroke": {"field": "s", "type": "nominal", "scale": {"domain": ["CE of aligned cQPPO at 1.5V", "VE of aligned cQPPO at 1.5V", "EE of cQPPO", "EE of aligned cQPPO at 1.5V", "CE of cQPPO", "VE of cQPPO"], "range": ["#000000", "#ff2020", "#a8a8a8", "#808080", "#222222", "#ff4060"]},
                       "legend": {"title": null, "orient": "none", "legendX": 11, "legendY": 120, "columns": 2, "columnPadding": 2, "rowPadding": 0, "symbolType": "M-3,0L-1,0M1,0L3,0M-1,0A1,1,0,1,0,1,0A1,1,0,1,0,-1,0Z", "symbolSize": 36, "symbolStrokeWidth": 1.6, "symbolOffset": 6, "labelOffset": 12, "labelFontSize": 9.5}},
            "fill": {"field": "s", "type": "nominal", "scale": {"domain": ["CE of aligned cQPPO at 1.5V", "VE of aligned cQPPO at 1.5V", "EE of cQPPO", "EE of aligned cQPPO at 1.5V", "CE of cQPPO", "VE of cQPPO"], "range": ["#000000", "#ff2020", "#ffffff", "#808080", "#ffffff", "#ffffff"]},
                       "legend": {"title": null, "orient": "none", "legendX": 11, "legendY": 120, "columns": 2, "columnPadding": 2, "rowPadding": 0, "symbolType": "M-3,0L-1,0M1,0L3,0M-1,0A1,1,0,1,0,1,0A1,1,0,1,0,-1,0Z", "symbolSize": 36, "symbolStrokeWidth": 1.6, "symbolOffset": 6, "labelOffset": 12, "labelFontSize": 9.5}}
          }
        },
        {
          "data": {"name": "effC"},
          "transform": [{"filter": {"field": "s", "oneOf": ["CE of aligned cQPPO at 1.5V", "EE of aligned cQPPO at 1.5V", "VE of aligned cQPPO at 1.5V"]}}],
          "mark": {"type": "line", "strokeWidth": 1.8},
          "encoding": {
            "x": {"field": "c", "type": "quantitative"},
            "y": {"field": "e", "type": "quantitative"},
            "stroke": {"field": "s", "type": "nominal", "scale": {"domain": ["CE of aligned cQPPO at 1.5V", "VE of aligned cQPPO at 1.5V", "EE of cQPPO", "EE of aligned cQPPO at 1.5V", "CE of cQPPO", "VE of cQPPO"], "range": ["#000000", "#ff2020", "#a8a8a8", "#808080", "#222222", "#ff4060"]}}
          }
        },
        {
          "data": {"name": "effC"},
          "transform": [{"filter": {"field": "s", "oneOf": ["CE of cQPPO", "EE of cQPPO", "VE of cQPPO"]}}],
          "mark": {"type": "line", "strokeWidth": 1.1, "strokeDash": [2, 1.5]},
          "encoding": {
            "x": {"field": "c", "type": "quantitative"},
            "y": {"field": "e", "type": "quantitative"},
            "stroke": {"field": "s", "type": "nominal", "scale": {"domain": ["CE of aligned cQPPO at 1.5V", "VE of aligned cQPPO at 1.5V", "EE of cQPPO", "EE of aligned cQPPO at 1.5V", "CE of cQPPO", "VE of cQPPO"], "range": ["#000000", "#ff2020", "#a8a8a8", "#808080", "#222222", "#ff4060"]}}
          }
        },
        {
          "data": {"name": "effC"},
          "mark": {"type": "point", "shape": "circle", "size": 36, "opacity": 1, "strokeWidth": 1.6},
          "encoding": {
            "x": {"field": "c", "type": "quantitative"},
            "y": {"field": "e", "type": "quantitative"},
            "stroke": {"field": "s", "type": "nominal", "scale": {"domain": ["CE of aligned cQPPO at 1.5V", "VE of aligned cQPPO at 1.5V", "EE of cQPPO", "EE of aligned cQPPO at 1.5V", "CE of cQPPO", "VE of cQPPO"], "range": ["#000000", "#ff2020", "#a8a8a8", "#808080", "#222222", "#ff4060"]}},
            "fill": {"field": "s", "type": "nominal", "scale": {"domain": ["CE of aligned cQPPO at 1.5V", "VE of aligned cQPPO at 1.5V", "EE of cQPPO", "EE of aligned cQPPO at 1.5V", "CE of cQPPO", "VE of cQPPO"], "range": ["#000000", "#ff2020", "#ffffff", "#808080", "#ffffff", "#ffffff"]}}
          }
        },
        {
          "data": {"values": [{"lab": "20 mA cm⁻²", "x": 0, "y": 100}]},
          "mark": {"type": "text", "align": "left", "baseline": "alphabetic", "dx": -1, "dy": -3, "fontSize": 13, "fontWeight": "bold", "color": "#000"},
          "encoding": {"x": {"field": "x", "type": "quantitative"}, "y": {"field": "y", "type": "quantitative"}, "text": {"field": "lab"}}
        },
        {
          "data": {"values": [{"lab": "(c)", "x": 20, "y": 100}]},
          "mark": {"type": "text", "align": "right", "baseline": "alphabetic", "dy": -3, "fontSize": 12, "fontWeight": "bold", "color": "#000"},
          "encoding": {"x": {"field": "x", "type": "quantitative"}, "y": {"field": "y", "type": "quantitative"}, "text": {"field": "lab"}}
        }
      ]
    },
    {
      "width": 298, "height": 166,
      "layer": [
        {
          "data": {"name": "effD"},
          "mark": {"type": "point", "shape": "circle", "size": 36, "opacity": 1, "strokeWidth": 1.6},
          "encoding": {
            "x": {"field": "c", "type": "quantitative", "title": "Cycle (#)", "scale": {"domain": [0, 20], "nice": false},
                  "axis": {"values": [0,1,2,3,4,5,6,7,8,9,10,11,12,13,14,15,16,17,18,19,20], "labelExpr": "datum.value % 5 == 0 ? datum.label : ''", "format": "d", "labelFontSize": 10, "titleFontSize": 11.5, "labelOverlap": false, "tickCount": 100}},
            "y": {"field": "e", "type": "quantitative", "title": "Efficiency (%)", "scale": {"domain": [40, 100], "nice": false, "zero": false},
                  "axis": {"values": [40,42,44,46,48,50,52,54,56,58,60,62,64,66,68,70,72,74,76,78,80,82,84,86,88,90,92,94,96,98,100], "labelExpr": "datum.value % 10 == 0 ? datum.label : ''", "format": "d", "labelFontSize": 10, "titleFontSize": 11.5, "labelOverlap": false, "tickCount": 100}},
            "stroke": {"field": "s", "type": "nominal", "scale": {"domain": ["CE of alinged cQPPO at 1.5V", "VE of alinged cQPPO at 1.5V", "EE of cQPPO", "EE of alinged cQPPO at 1.5V", "CE of cQPPO", "VE of cQPPO"], "range": ["#000000", "#ff2020", "#a8a8a8", "#808080", "#222222", "#ff4060"]},
                       "legend": {"title": null, "orient": "none", "legendX": 11, "legendY": 120, "columns": 2, "columnPadding": 16, "rowPadding": 0, "symbolType": "M-3,0L-1,0M1,0L3,0M-1,0A1,1,0,1,0,1,0A1,1,0,1,0,-1,0Z", "symbolSize": 36, "symbolStrokeWidth": 1.6, "symbolOffset": 6, "labelOffset": 11, "labelFontSize": 9}},
            "fill": {"field": "s", "type": "nominal", "scale": {"domain": ["CE of alinged cQPPO at 1.5V", "VE of alinged cQPPO at 1.5V", "EE of cQPPO", "EE of alinged cQPPO at 1.5V", "CE of cQPPO", "VE of cQPPO"], "range": ["#000000", "#ff2020", "#ffffff", "#808080", "#ffffff", "#ffffff"]},
                       "legend": {"title": null, "orient": "none", "legendX": 11, "legendY": 120, "columns": 2, "columnPadding": 16, "rowPadding": 0, "symbolType": "M-3,0L-1,0M1,0L3,0M-1,0A1,1,0,1,0,1,0A1,1,0,1,0,-1,0Z", "symbolSize": 36, "symbolStrokeWidth": 1.6, "symbolOffset": 6, "labelOffset": 11, "labelFontSize": 9}}
          }
        },
        {
          "data": {"name": "effD"},
          "transform": [{"filter": {"field": "s", "oneOf": ["CE of alinged cQPPO at 1.5V", "EE of alinged cQPPO at 1.5V", "VE of alinged cQPPO at 1.5V"]}}],
          "mark": {"type": "line", "strokeWidth": 1.8},
          "encoding": {
            "x": {"field": "c", "type": "quantitative"},
            "y": {"field": "e", "type": "quantitative"},
            "stroke": {"field": "s", "type": "nominal", "scale": {"domain": ["CE of alinged cQPPO at 1.5V", "VE of alinged cQPPO at 1.5V", "EE of cQPPO", "EE of alinged cQPPO at 1.5V", "CE of cQPPO", "VE of cQPPO"], "range": ["#000000", "#ff2020", "#a8a8a8", "#808080", "#222222", "#ff4060"]}}
          }
        },
        {
          "data": {"name": "effD"},
          "transform": [{"filter": {"field": "s", "oneOf": ["CE of cQPPO", "EE of cQPPO", "VE of cQPPO"]}}],
          "mark": {"type": "line", "strokeWidth": 1.1, "strokeDash": [2, 1.5]},
          "encoding": {
            "x": {"field": "c", "type": "quantitative"},
            "y": {"field": "e", "type": "quantitative"},
            "stroke": {"field": "s", "type": "nominal", "scale": {"domain": ["CE of alinged cQPPO at 1.5V", "VE of alinged cQPPO at 1.5V", "EE of cQPPO", "EE of alinged cQPPO at 1.5V", "CE of cQPPO", "VE of cQPPO"], "range": ["#000000", "#ff2020", "#a8a8a8", "#808080", "#222222", "#ff4060"]}}
          }
        },
        {
          "data": {"name": "effD"},
          "mark": {"type": "point", "shape": "circle", "size": 36, "opacity": 1, "strokeWidth": 1.6},
          "encoding": {
            "x": {"field": "c", "type": "quantitative"},
            "y": {"field": "e", "type": "quantitative"},
            "stroke": {"field": "s", "type": "nominal", "scale": {"domain": ["CE of alinged cQPPO at 1.5V", "VE of alinged cQPPO at 1.5V", "EE of cQPPO", "EE of alinged cQPPO at 1.5V", "CE of cQPPO", "VE of cQPPO"], "range": ["#000000", "#ff2020", "#a8a8a8", "#808080", "#222222", "#ff4060"]}},
            "fill": {"field": "s", "type": "nominal", "scale": {"domain": ["CE of alinged cQPPO at 1.5V", "VE of alinged cQPPO at 1.5V", "EE of cQPPO", "EE of alinged cQPPO at 1.5V", "CE of cQPPO", "VE of cQPPO"], "range": ["#000000", "#ff2020", "#ffffff", "#808080", "#ffffff", "#ffffff"]}}
          }
        },
        {
          "data": {"values": [{"lab": "40 mA cm⁻²", "x": 0, "y": 100}]},
          "mark": {"type": "text", "align": "left", "baseline": "alphabetic", "dx": -2, "dy": -4, "fontSize": 13, "fontWeight": "bold", "color": "#000"},
          "encoding": {"x": {"field": "x", "type": "quantitative"}, "y": {"field": "y", "type": "quantitative"}, "text": {"field": "lab"}}
        },
        {
          "data": {"values": [{"lab": "(d)", "x": 20, "y": 100}]},
          "mark": {"type": "text", "align": "right", "baseline": "alphabetic", "dy": -4, "fontSize": 12, "fontWeight": "bold", "color": "#000"},
          "encoding": {"x": {"field": "x", "type": "quantitative"}, "y": {"field": "y", "type": "quantitative"}, "text": {"field": "lab"}}
        }
      ]
    }
  ]
}
